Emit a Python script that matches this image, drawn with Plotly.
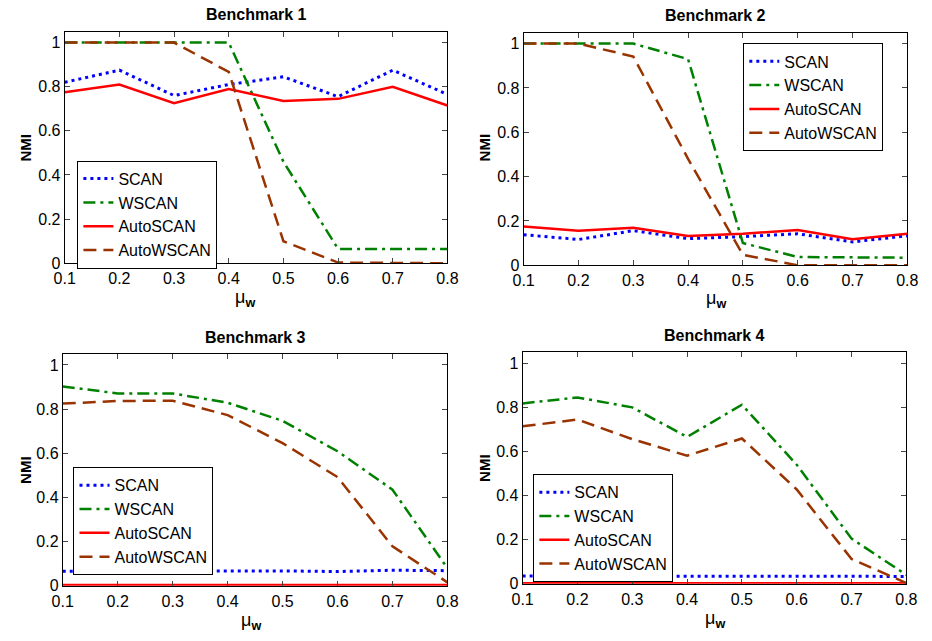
import plotly.graph_objects as go

mu_w = [0.1, 0.2, 0.3, 0.4, 0.5, 0.6, 0.7, 0.8]
series_names = ["SCAN", "WSCAN", "AutoSCAN", "AutoWSCAN"]

# Benchmark 1
b1_scan = [0.82, 0.875, 0.76, 0.81, 0.845, 0.755, 0.875, 0.765]
b1_wscan = [1.0, 1.0, 1.0, 1.0, 0.46, 0.065, 0.065, 0.065]
b1_autoscan = [0.775, 0.81, 0.725, 0.79, 0.735, 0.745, 0.80, 0.715]
b1_autowscan = [1.0, 1.0, 1.0, 0.867, 0.10, 0.003, 0.0, 0.0]

# Benchmark 2
b2_scan = [0.138, 0.116, 0.156, 0.12, 0.129, 0.142, 0.105, 0.133]
b2_wscan = [1.0, 1.0, 1.0, 0.93, 0.10, 0.037, 0.034, 0.034]
b2_autoscan = [0.175, 0.156, 0.169, 0.132, 0.142, 0.159, 0.117, 0.142]
b2_autowscan = [1.0, 1.0, 0.942, 0.48, 0.047, 0.0, 0.0, 0.0]

# Benchmark 3
b3_scan = [0.065, 0.066, 0.068, 0.068, 0.067, 0.064, 0.07, 0.068]
b3_wscan = [0.903, 0.871, 0.871, 0.829, 0.747, 0.609, 0.435, 0.079]
b3_autoscan = [0.003, 0.003, 0.003, 0.003, 0.003, 0.003, 0.003, 0.003]
b3_autowscan = [0.825, 0.837, 0.838, 0.773, 0.646, 0.492, 0.178, 0.015]

# Benchmark 4
b4_scan = [0.035, 0.035, 0.032, 0.032, 0.032, 0.034, 0.032, 0.033]
b4_wscan = [0.817, 0.844, 0.799, 0.665, 0.811, 0.539, 0.204, 0.04]
b4_autoscan = [0.002, 0.002, 0.002, 0.002, 0.002, 0.002, 0.002, 0.002]
b4_autowscan = [0.713, 0.744, 0.655, 0.580, 0.658, 0.427, 0.112, 0.003]

titles = ["Benchmark 1", "Benchmark 2", "Benchmark 3", "Benchmark 4"]
x_ticks = [0.1, 0.2, 0.3, 0.4, 0.5, 0.6, 0.7, 0.8]
x_ticklabels = ["0.1", "0.2", "0.3", "0.4", "0.5", "0.6", "0.7", "0.8"]
y_ticks = [0, 0.2, 0.4, 0.6, 0.8, 1.0]
y_ticklabels = ["0", "0.2", "0.4", "0.6", "0.8", "1"]

panels = [
    [b1_scan, b1_wscan, b1_autoscan, b1_autowscan],
    [b2_scan, b2_wscan, b2_autoscan, b2_autowscan],
    [b3_scan, b3_wscan, b3_autoscan, b3_autowscan],
    [b4_scan, b4_wscan, b4_autoscan, b4_autowscan],
]

W, H = 932, 641
FONT = "Liberation Sans, Arial, Helvetica, sans-serif"

# pixel geometry of each panel: left, right, top, bottom
geom = [(55, 447, 32, 267), (525, 918, 33, 269), (53, 447, 359, 594), (524, 917, 357, 592)]
legend_pos = [(68, 163), (750, 44), (64, 474), (535, 481)]
nmi_pos = [(15, 150), (485, 150), (15, 477), (485, 475)]
mu_pos = [(240, 303), (722, 304), (246, 630), (721, 628)]

styles = [
    dict(color="#0000FF", dash="3px,4px", width=3),
    dict(color="#008000", dash="12px,5px,3px,5px", width=2.5),
    dict(color="#FF0000", dash="solid", width=2.5),
    dict(color="#993300", dash="13px,7px", width=2.5),
]

fig = go.Figure()
layout = dict(
    width=W, height=H, margin=dict(l=0, r=0, t=0, b=0),
    paper_bgcolor="white", plot_bgcolor="white",
    font=dict(family=FONT, size=16, color="black"),
    showlegend=True,
)
annotations = []

for i, data in enumerate(panels):
    n = "" if i == 0 else str(i + 1)
    leg = "legend" if i == 0 else "legend" + str(i + 1)
    for j, ys in enumerate(data):
        fig.add_trace(go.Scatter(
            x=mu_w, y=ys, mode="lines", name=series_names[j],
            line=styles[j], xaxis="x" + n, yaxis="y" + n, legend=leg,
        ))
    l, r, t, b = geom[i]
    layout["xaxis" + n] = dict(
        domain=[l / W, r / W], range=[0.1, 0.8], anchor="y" + n,
        tickvals=x_ticks, ticktext=x_ticklabels, ticks="inside", ticklen=5,
        showline=True, linecolor="black", linewidth=1, mirror="ticks",
        showgrid=False, zeroline=False, tickfont=dict(size=16),
        ticklabelstandoff=1,
    )
    layout["yaxis" + n] = dict(
        domain=[1 - b / H, 1 - t / H], range=[0, 1.05], anchor="x" + n,
        tickvals=y_ticks, ticktext=y_ticklabels, ticks="inside", ticklen=5,
        showline=True, linecolor="black", linewidth=1, mirror="ticks",
        showgrid=False, zeroline=False, tickfont=dict(size=16),
    )
    lx, ly = legend_pos[i]
    layout[leg] = dict(
        x=lx / W, y=1 - ly / H, xanchor="left", yanchor="top",
        bordercolor="black", borderwidth=1, bgcolor="white",
        font=dict(size=16, family=FONT), tracegroupgap=0,
    )
    annotations.append(dict(
        text="<b>" + titles[i] + "</b>", x=(l + r) / 2 / W, y=1 - (t - 17) / H,
        xref="paper", yref="paper", showarrow=False, font=dict(size=16),
        xanchor="center", yanchor="middle",
    ))
    nx, ny = nmi_pos[i]
    annotations.append(dict(
        text="<b>NMI</b>", x=nx / W, y=1 - ny / H, xref="paper", yref="paper",
        showarrow=False, textangle=-90, font=dict(size=15),
        xanchor="center", yanchor="middle",
    ))
    mx, my = mu_pos[i]
    annotations.append(dict(
        text="μ<sub><b>w</b></sub>", x=mx / W, y=1 - my / H, xref="paper", yref="paper",
        showarrow=False, font=dict(size=18),
        xanchor="center", yanchor="middle",
    ))

layout["annotations"] = annotations
fig.update_layout(**layout)
fig.write_html("out.html")
